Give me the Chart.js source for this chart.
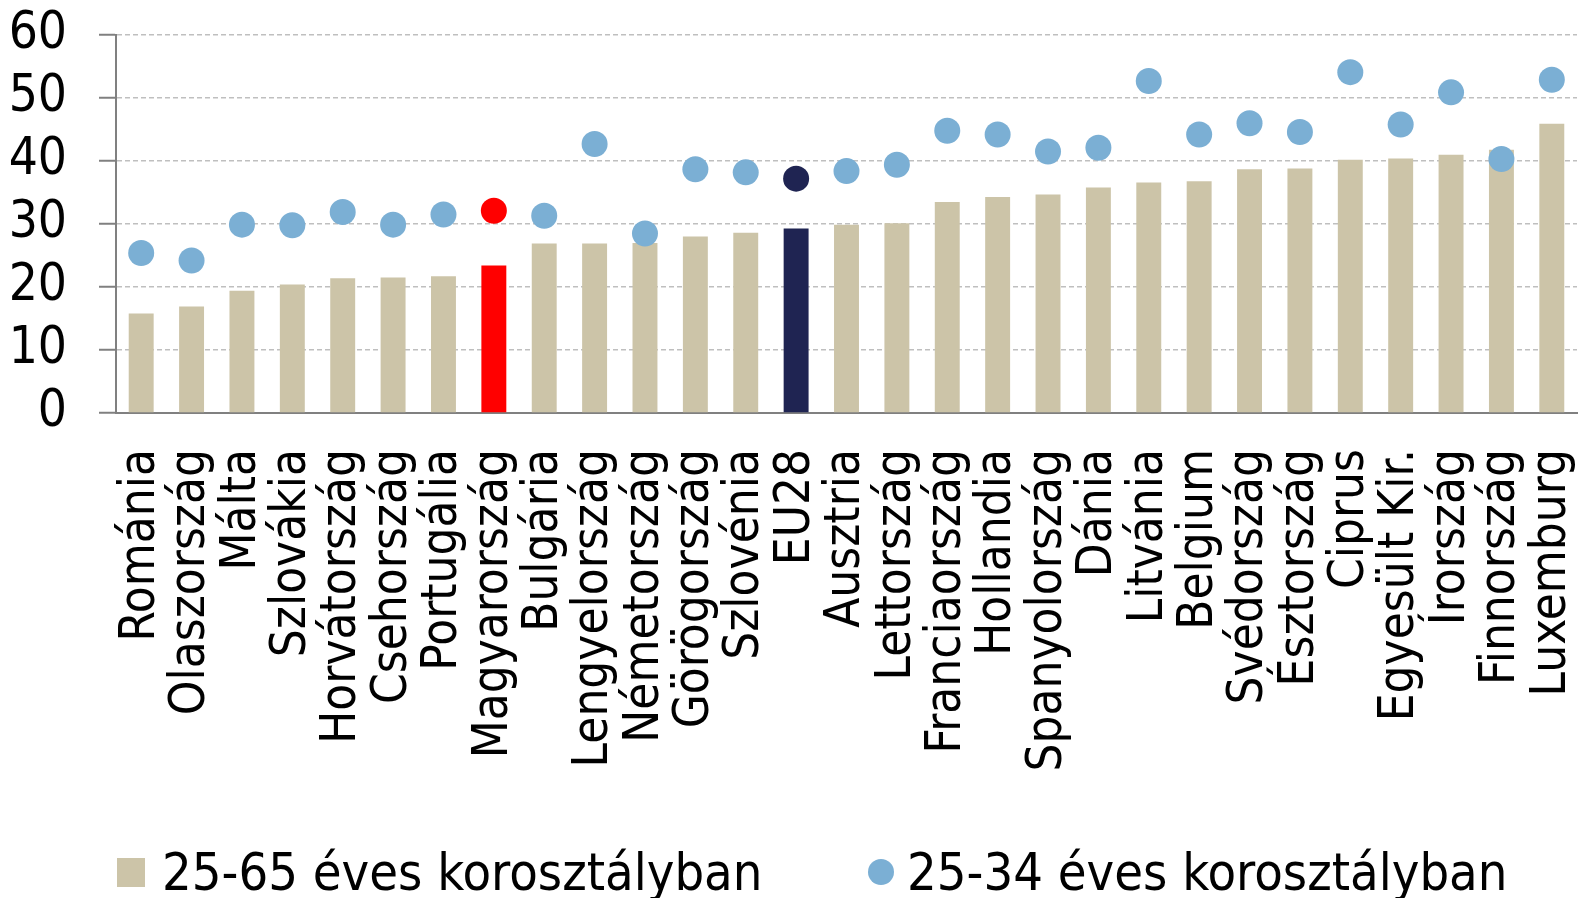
<!DOCTYPE html>
<html>
<head>
<meta charset="utf-8">
<script src="https://cdn.jsdelivr.net/npm/chart.js@4.4.1/dist/chart.umd.min.js"></script>
<style>
  body { margin: 0; background: #fff; }
  #wrap { position: relative; width: 1590px; height: 898px; }
  #legend { position: absolute; left: 0; top: 0; width: 1590px; height: 898px; pointer-events: none;
    font-family: "DejaVu Sans Condensed", "DejaVu Sans", sans-serif; font-size: 52px; color: #000; }
  #legend .mark { position: absolute; }
  #legend .txt { position: absolute; line-height: 52px; white-space: nowrap; }
</style>
</head>
<body>
<div id="wrap">
  <canvas id="chart" width="1590" height="898"></canvas>
  <div id="legend"></div>
</div>
<script>
// === Datos ===
const paises = ["Románia", "Olaszország", "Málta", "Szlovákia", "Horvátország", "Csehország",
  "Portugália", "Magyarország", "Bulgária", "Lengyelország", "Németország", "Görögország",
  "Szlovénia", "EU28", "Ausztria", "Lettország", "Franciaország", "Hollandia", "Spanyolország",
  "Dánia", "Litvánia", "Belgium", "Svédország", "Észtország", "Ciprus", "Egyesült Kir.",
  "Írország", "Finnország", "Luxemburg"];
const kor25_65 = [15.8, 16.9, 19.4, 20.4, 21.4, 21.5, 21.7, 23.4, 26.9, 26.9, 27.0, 28.0,
  28.6, 29.3, 29.9, 30.1, 33.5, 34.3, 34.7, 35.8, 36.6, 36.8, 38.7, 38.8, 40.2, 40.4,
  41.0, 41.8, 45.9];
const kor25_34 = [25.4, 24.2, 29.9, 29.8, 31.9, 29.9, 31.5, 32.1, 31.3, 42.7, 28.5, 38.7,
  38.2, 37.2, 38.4, 39.4, 44.8, 44.2, 41.5, 42.1, 52.7, 44.2, 46.0, 44.6, 54.1, 45.8,
  50.9, 40.3, 52.9];
const yTicks = [0, 10, 20, 30, 40, 50, 60];
const serieNombres = ["25-65 éves korosztályban", "25-34 éves korosztályban"];

// === Colores ===
const beige = "#CCC4A8";
const celeste = "#7BAFD4";
const rojo = "#FF0000";
const marino = "#1F2452";
const font = "'DejaVu Sans Condensed', 'DejaVu Sans', sans-serif";

const colorBarra = paises.map(p => p === "Magyarország" ? rojo : (p === "EU28" ? marino : beige));
const colorPunto = paises.map(p => p === "Magyarország" ? rojo : (p === "EU28" ? marino : celeste));

new Chart(document.getElementById("chart"), {
  type: "bar",
  data: {
    labels: paises,
    datasets: [
      {
        label: serieNombres[0],
        data: kor25_65,
        backgroundColor: colorBarra,
        categoryPercentage: 1,
        barPercentage: 0.495,
        order: 1
      },
      {
        type: "line",
        label: serieNombres[1],
        data: kor25_34,
        showLine: false,
        pointRadius: 13,
        pointHoverRadius: 13,
        pointBorderWidth: 0,
        pointBackgroundColor: colorPunto,
        backgroundColor: celeste,
        order: 0
      }
    ]
  },
  options: {
    responsive: false,
    animation: false,
    layout: { padding: { top: 35, right: 8, left: 0, bottom: 0 } },
    plugins: {
      legend: { display: false },
      tooltip: { enabled: false }
    },
    scales: {
      x: {
        grid: { display: false },
        border: { color: "#808080", width: 2 },
        ticks: {
          color: "#000",
          font: { family: font, size: 49 },
          minRotation: 90,
          maxRotation: 90,
          autoSkip: false,
          padding: 28
        },
        afterFit: s => {
          s.height = 898 - 413;
          s.paddingLeft = 0;
          s.paddingRight = 0;
        }
      },
      y: {
        min: 0,
        max: 60,
        afterBuildTicks: s => { s.ticks = yTicks.map(v => ({ value: v })); },
        grid: { color: "#BFBFBF", lineWidth: 1.5, tickLength: 17, tickColor: "#808080", tickWidth: 2 },
        border: { color: "#808080", width: 2, dash: [5, 3] },
        ticks: {
          color: "#000",
          font: { family: font, size: 51 },
          padding: 32,
          autoSkip: false
        },
        afterFit: s => {
          s.width = 116;
          s.paddingTop = 0;
          s.paddingBottom = 0;
        }
      }
    }
  }
});

// === Leyenda (HTML) ===
const leyenda = document.getElementById("legend");
const items = [
  { txt: serieNombres[0], color: beige, forma: "cuadro", x: 117, tx: 162 },
  { txt: serieNombres[1], color: celeste, forma: "circulo", x: 868, tx: 907 }
];
items.forEach(it => {
  const m = document.createElement("div");
  m.className = "mark";
  m.style.background = it.color;
  if (it.forma === "cuadro") {
    m.style.left = it.x + "px"; m.style.top = "858px"; m.style.width = "28px"; m.style.height = "29px";
  } else {
    m.style.left = it.x + "px"; m.style.top = "859px"; m.style.width = "26px"; m.style.height = "26px";
    m.style.borderRadius = "50%";
  }
  leyenda.appendChild(m);
  const t = document.createElement("div");
  t.className = "txt";
  t.textContent = it.txt;
  t.style.left = it.tx + "px";
  t.style.top = "846px";
  leyenda.appendChild(t);
});
</script>
</body>
</html>
